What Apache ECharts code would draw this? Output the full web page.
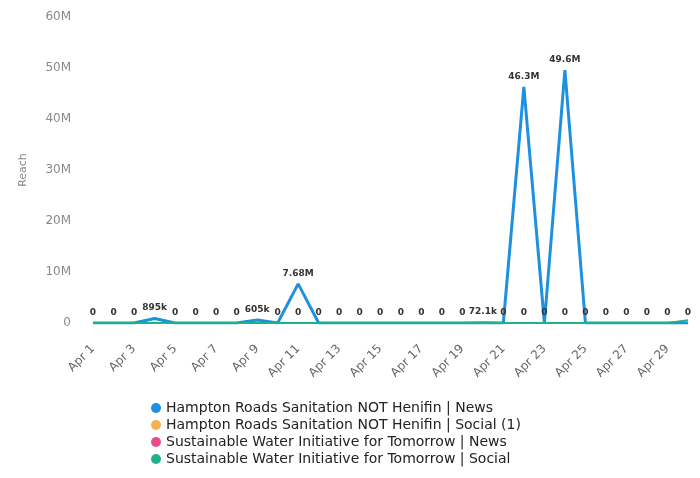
<!DOCTYPE html>
<html>
<head>
<meta charset="utf-8">
<script src="https://cdn.jsdelivr.net/npm/echarts@6/dist/echarts.min.js"></script>
<style>
  html, body { margin: 0; padding: 0; background: #fff; }
  #chart { width: 700px; height: 478px; }
</style>
</head>
<body>
<div id="chart"></div>
<script>
// Days of April (one point per day)
const days = [
  'Apr 1', 'Apr 2', 'Apr 3', 'Apr 4', 'Apr 5', 'Apr 6', 'Apr 7', 'Apr 8', 'Apr 9', 'Apr 10',
  'Apr 11', 'Apr 12', 'Apr 13', 'Apr 14', 'Apr 15', 'Apr 16', 'Apr 17', 'Apr 18', 'Apr 19', 'Apr 20',
  'Apr 21', 'Apr 22', 'Apr 23', 'Apr 24', 'Apr 25', 'Apr 26', 'Apr 27', 'Apr 28', 'Apr 29', 'Apr 30',
];

const hrsdNews = [
  0, 0, 0, 895000, 0, 0, 0, 0, 605000, 0,
  7680000, 0, 0, 0, 0, 0, 0, 0, 0, 72100,
  0, 46300000, 0, 49600000, 0, 0, 0, 0, 0, 0,
];
const hrsdSocial = new Array(30).fill(0);
const switNews = new Array(30).fill(0);
const switSocial = [
  0, 0, 0, 0, 0, 0, 0, 0, 0, 0,
  0, 0, 0, 0, 0, 0, 0, 0, 0, 0,
  0, 0, 0, 0, 0, 0, 0, 0, 0, 520000,
];

const seriesNames = [
  'Hampton Roads Sanitation NOT Henifin | News',
  'Hampton Roads Sanitation NOT Henifin | Social (1)',
  'Sustainable Water Initiative for Tomorrow | News',
  'Sustainable Water Initiative for Tomorrow | Social',
];
const colors = ['#1e90e0', '#f2b24e', '#e84a8a', '#1fb28a'];
const font = 'DejaVu Sans, Verdana, sans-serif';

// 3 significant digits: 895k, 7.68M, 72.1k
function short(v) {
  if (!v) return '0';
  if (v >= 1e6) return +(v / 1e6).toPrecision(3) + 'M';
  if (v >= 1e3) return +(v / 1e3).toPrecision(3) + 'k';
  return String(v);
}

const chart = echarts.init(document.getElementById('chart'));

const mk = (name, data, color, width, z) => ({
  name,
  type: 'line',
  data,
  smooth: false,
  symbol: 'circle',
  symbolSize: 0.1,
  showSymbol: true,
  lineStyle: { width, color },
  itemStyle: { color },
  z,
  label: {
    show: true,
    position: 'top',
    distance: 6,
    fontSize: 9,
    fontWeight: 'bold',
    fontFamily: font,
    color: '#333',
    formatter: (p) => short(p.value),
  },
  labelLayout: { hideOverlap: true },
});

chart.setOption({
  backgroundColor: '#fff',
  animation: false,
  color: colors,
  grid: { left: 93, right: 12, top: 17, bottom: 155 },
  legend: {
    orient: 'vertical',
    left: 146,
    top: 396,
    itemGap: 3,
    itemWidth: 10,
    itemHeight: 10,
    icon: 'circle',
    textStyle: { fontSize: 14, color: '#222', fontFamily: font },
    data: seriesNames,
  },
  xAxis: {
    type: 'category',
    boundaryGap: false,
    data: days,
    axisLine: { show: false },
    axisTick: { show: false },
    axisLabel: {
      interval: 1,
      rotate: 45,
      color: '#666',
      fontSize: 12,
      margin: 24,
      fontFamily: font,
    },
  },
  yAxis: {
    type: 'value',
    min: 0,
    max: 60000000,
    interval: 10000000,
    name: 'Reach',
    nameLocation: 'middle',
    nameGap: 64,
    nameTextStyle: { color: '#888', fontSize: 11, fontFamily: font },
    axisLine: { show: false },
    axisTick: { show: false },
    splitLine: { show: false },
    axisLabel: {
      color: '#888',
      fontSize: 12,
      margin: 22,
      fontFamily: font,
      formatter: (v) => (v === 0 ? '0' : v / 1e6 + 'M'),
    },
  },
  series: [
    mk(seriesNames[0], hrsdNews, colors[0], 3, 4),
    mk(seriesNames[1], hrsdSocial, colors[1], 2, 3),
    mk(seriesNames[2], switNews, colors[2], 2, 3),
    mk(seriesNames[3], switSocial, colors[3], 2, 5),
  ],
});
</script>
</body>
</html>
